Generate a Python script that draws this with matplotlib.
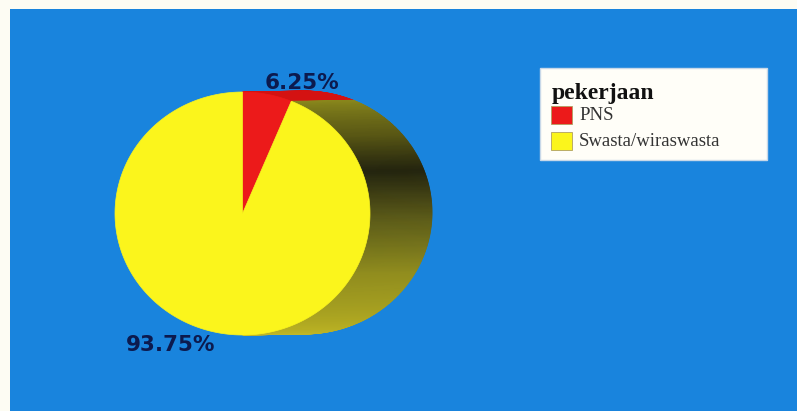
import numpy as np
import matplotlib.pyplot as plt
from matplotlib.patches import Polygon, Rectangle
from matplotlib.colors import LinearSegmentedColormap

# pie data
categories = ['PNS', 'Swasta/wiraswasta']
percent = [6.25, 93.75]
legend_title = 'pekerjaan'
slice_colors = ['#ec1a1a', '#fbf51c']
side_red = '#d41212'

W, H = 797, 411
fig = plt.figure(figsize=(W / 100, H / 100), dpi=100)
fig.patch.set_facecolor('#fdfcf3')
ax = fig.add_axes([0, 0, 1, 1])
ax.set_xlim(0, W)
ax.set_ylim(H, 0)
ax.axis('off')

# blue chart area
ax.add_patch(Rectangle((10, 9), W - 10, H - 9, facecolor='#1984dd', lw=0, zorder=0))

# ellipse of the front face, and offset of the back face (pixels)
cx, cy, rx, ry = 242.5, 213.5, 127.5, 121.5
dx, dy = 62, -1


def rim(t):
    # t in degrees, clockwise from 12 o'clock
    a = np.radians(t)
    return np.array([cx + rx * np.sin(a), cy - ry * np.cos(a)])


# shading of the yellow side wall, by angle
side_shade = LinearSegmentedColormap.from_list('side', [
    (0.0, '#8a881c'), (0.18, '#585614'), (0.3, '#24240e'),
    (0.45, '#5e5c18'), (0.62, '#928e1e'), (0.87, '#b4ac22'), (1.0, '#bfb728')])

bounds = np.concatenate([[0], np.cumsum(percent)]) * 3.6

# side wall (only the right half is visible)
for i, (t0, t1) in enumerate(zip(bounds[:-1], bounds[1:])):
    lo, hi = max(t0, 0), min(t1, 180)
    if hi <= lo:
        continue
    steps = np.linspace(lo, hi, int((hi - lo) * 2) + 2)
    for a, b in zip(steps[:-1], steps[1:]):
        p, q = rim(a), rim(b)
        if i == 0:
            col = side_red
        else:
            col = side_shade((0.5 * (a + b) - bounds[1]) / (180 - bounds[1]))
        quad = [p, q, q + (dx, dy), p + (dx, dy)]
        ax.add_patch(Polygon(quad, closed=True, facecolor=col, edgecolor=col,
                             lw=0.6, zorder=1))

# front face
for t0, t1, col in zip(bounds[:-1], bounds[1:], slice_colors):
    arc = [rim(t) for t in np.linspace(t0, t1, max(int(t1 - t0), 2) + 1)]
    ax.add_patch(Polygon([(cx, cy)] + arc, closed=True, facecolor=col,
                         edgecolor=col, lw=0.5, zorder=2))

# percentage labels
label_pos = [(302, 83), (171, 345)]
for v, (x, y) in zip(percent, label_pos):
    ax.text(x, y, f'{v:.2f}%', ha='center', va='center', fontsize=15.5,
            fontweight='bold', color='#0c1a4e', family='DejaVu Sans', zorder=3)

# legend box
ax.add_patch(Rectangle((540, 68), 227, 92, facecolor='#fffef8',
                       edgecolor='#c8d8e8', lw=1, zorder=3))
ax.text(552, 93, legend_title, ha='left', va='center', fontsize=17,
        fontweight='bold', family='Liberation Serif', color='#111111', zorder=4)
for k, (name, col) in enumerate(zip(categories, slice_colors)):
    y = 115 + k * 26
    ax.add_patch(Rectangle((551, y - 9), 21, 18, facecolor=col,
                           edgecolor='#b0a060', lw=0.6, zorder=4))
    ax.text(579, y, name, ha='left', va='center', fontsize=13.5,
            family='Liberation Serif', color='#333333', zorder=4)

fig.savefig('out.png', dpi=100, facecolor=fig.get_facecolor())
